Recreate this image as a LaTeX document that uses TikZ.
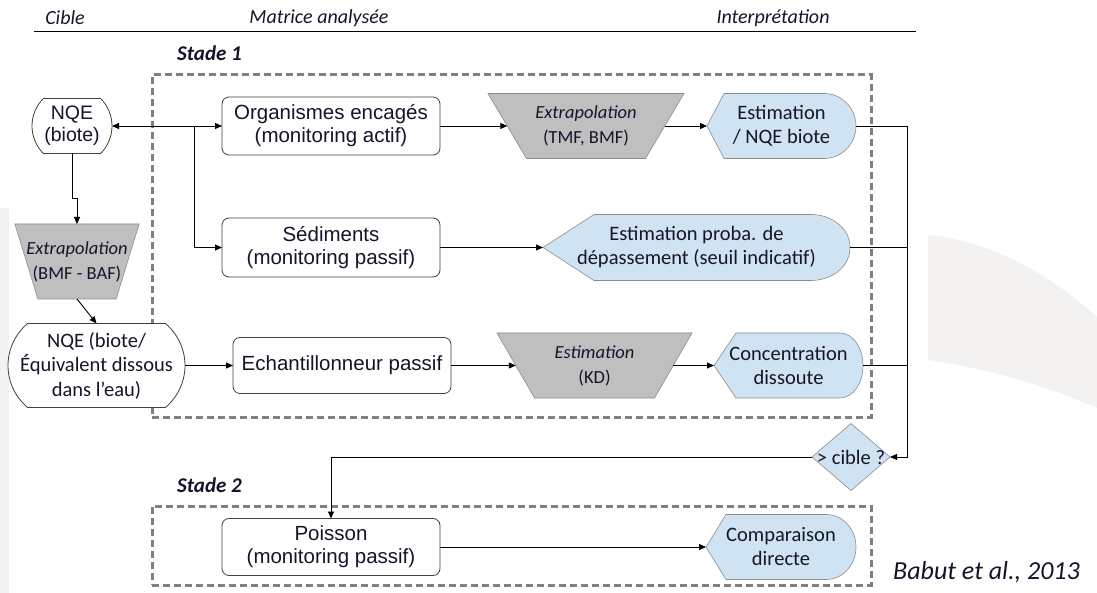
\documentclass[tikz,border=0pt]{standalone}
\usepackage{fontspec}
\setmainfont{Carlito}
\newfontfamily\arialf{Liberation Sans}
\usetikzlibrary{arrows.meta,shapes.geometric,shapes.misc,backgrounds,calc}
\definecolor{gfill}{HTML}{BFBFBF}
\definecolor{gline}{HTML}{8C8C8C}
\definecolor{lblue}{HTML}{CFE3F3}
\definecolor{dashg}{HTML}{808080}
\definecolor{wmark}{HTML}{F3F2F0}
\definecolor{boxline}{HTML}{404040}
\definecolor{txt}{HTML}{15152A}
\newcommand\trapez[2]{\path[trapfill] ([xshift=-#2]#1.north west) -- ([xshift=#2]#1.north east) -- ([xshift=-#2]#1.south east) -- ([xshift=#2]#1.south west) -- cycle;}
\newcommand\dispsh[3]{\path[dispfill] (#1.west) -- ([xshift=#2]#1.north west) -- ([xshift=-#3]#1.north east) to[out=0,in=90] (#1.east) to[out=-90,in=0] ([xshift=-#3]#1.south east) -- ([xshift=#2]#1.south west) -- cycle;}
\tikzset{
  every node/.style={inner sep=0pt, outer sep=0pt, align=center, text=txt},
  wbox/.style={draw=boxline, line width=0.8pt, rounded corners=7pt, fill=white,
    minimum width=218pt, font=\arialf\fontsize{20.5}{23}\selectfont},
  term/.style={draw=boxline, line width=0.8pt, rounded rectangle, fill=white},
  trapnode/.style={font=\fontsize{18.5}{25}\selectfont, minimum height=65pt},
  trapfill/.style={fill=gfill, draw=gline, line width=0.6pt},
  dispnode/.style={font=\fontsize{20.5}{24}\selectfont, minimum height=65pt},
  dispfill/.style={fill=lblue, draw=gline, line width=0.6pt},
  conn/.style={draw=black, line width=0.9pt},
  arr/.style={conn, -{Triangle[length=7pt,width=6pt]}},
  stagebox/.style={draw=dashg, line width=3pt, dash pattern=on 7pt off 4pt},
  header/.style={font=\itshape\fontsize{20}{24}\selectfont},
  stagelbl/.style={font=\bfseries\itshape\fontsize{21}{24}\selectfont},
}
\begin{document}
\begin{tikzpicture}[x=1pt,y=-1pt]
\useasboundingbox (0,0) rectangle (1097,593);
\begin{scope}[on background layer]
  \fill[white] (0,0) rectangle (1097,593);
  \fill[wmark] (0,208) rectangle (9,593);
  \fill[wmark] (928,235) .. controls (985,240) and (1045,270) .. (1097,317)
     -- (1097,408) .. controls (1045,385) and (985,368) .. (928,360) -- cycle;
\end{scope}

% header
\node[header] (hcible) at (65,18) {Cible};
\node[header] (hmat) at (319,18) {Matrice analysée};
\node[header] (hint) at (773,18) {Interprétation};
\coordinate (hl) at (34,32);
\coordinate (hr) at (916,32);
\draw[line width=1pt] (hl) -- (hr);

% stages
\node[stagelbl] (st1) at (209.5,53) {Stade 1};
\node[stagelbl] (st2) at (209.5,485) {Stade 2};
\node[stagebox, minimum width=719pt, minimum height=342pt] (box1) at (511.5,246) {};
\node[stagebox, minimum width=719pt, minimum height=79pt] (box2) at (511.5,545.5) {};

% row 1
\node[term, minimum width=80pt, minimum height=55pt, rounded rectangle arc length=90,
      font=\arialf\fontsize{19.5}{22}\selectfont] (nqe1) at (72,126) {NQE\\(biote)};
\node[wbox, minimum height=58pt] (org) at (331,126) {Organismes encagés\\(monitoring actif)};
\node[trapnode, minimum width=157.5pt] (ext1) at (586,126) {\textit{Extrapolation}\\(TMF, BMF)};
\node[dispnode, minimum width=149pt] (est1) at (781.5,126) {Estimation\\/ NQE biote};

% row 2
\node[wbox, minimum height=59pt] (sed) at (331,247.5) {Sédiments\\(monitoring passif)};
\node[dispnode, minimum width=307pt, minimum height=66pt] (est2) at (696.5,247.5) {Estimation proba. de\\dépassement (seuil indicatif)};
\node[trapnode, minimum width=101pt, minimum height=75pt] (ext2) at (77,261.5) {\textit{Extrapolation}\\(BMF - BAF)};

% row 3
\node[term, minimum width=177pt, minimum height=84pt, rounded rectangle arc length=100,
      font=\fontsize{20.5}{24.5}\selectfont] (nqe2) at (96.5,365.5) {NQE (biote/\\Équivalent dissous\\dans l’eau)};
\node[wbox, minimum height=56pt] (ech) at (342,365.5) {Echantillonneur passif};
\node[trapnode, minimum width=157.5pt] (ext3) at (594.5,365.5) {\textit{Estimation}\\(KD)};
\node[dispnode, minimum width=149pt] (est3) at (788.5,365.5) {Concentration\\dissoute};

% decision
\node[diamond, fill=lblue, draw=gline, line width=0.6pt, minimum width=78pt, minimum height=67pt,
      aspect=1.16, font=\fontsize{20.5}{24}\selectfont] (dia) at (851,457) {\makebox[0pt]{> cible ?}};

% stage 2
\node[wbox, minimum height=57pt] (poisson) at (331,547) {Poisson\\(monitoring passif)};
\node[dispnode, minimum width=150pt] (comp) at (781,547) {Comparaison\\directe};

\node[font=\itshape\fontsize{26}{30}\selectfont] (ref) at (986.5,572) {Babut et al., 2013};

\begin{scope}[on background layer]
  \trapez{ext1}{19.25pt}
  \trapez{ext2}{11.5pt}
  \trapez{ext3}{18.75pt}
  \dispsh{est1}{17pt}{32pt}
  \dispsh{est2}{51pt}{39pt}
  \dispsh{est3}{22pt}{24pt}
  \dispsh{comp}{20pt}{30pt}
\end{scope}

% connectors
\coordinate (jx) at (194,126);
\coordinate (rb) at (907,457);
\draw[conn, {Triangle[length=7pt,width=6pt]}-{Triangle[length=7pt,width=6pt]}] (nqe1.east) -- (org.west);
\draw[arr] (jx) |- (sed.west);
\draw[arr] (org.east) -- (ext1.west);
\draw[arr] (ext1.east) -- (est1.west);
\draw[arr] (sed.east) -- (est2.west);
\draw[arr] (nqe1.south) |- ($(ext2.north)+(0,-26)$) -- (ext2.north);
\draw[arr] (ext2.south) -- (nqe2.north);
\draw[arr] (nqe2.east) -- (ech.west);
\draw[arr] (ech.east) -- (ext3.west);
\draw[arr] (ext3.east) -- (est3.west);
\draw[arr] (est1.east) -| (rb) -- (dia.east);
\draw[conn] (est2.east) -- (est2.east -| rb);
\draw[conn] (est3.east) -- (est3.east -| rb);
\draw[arr] (dia.west) -| (poisson.north);
\draw[arr] (poisson.east) -- (comp.west);
\end{tikzpicture}
\end{document}
